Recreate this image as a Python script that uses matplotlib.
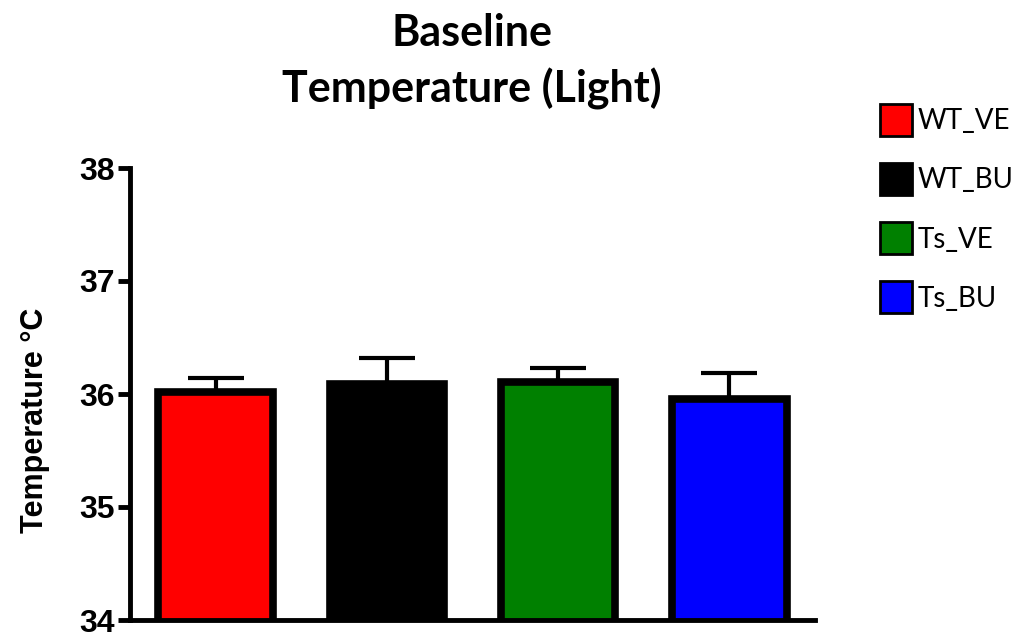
import matplotlib
matplotlib.use("Agg")
import matplotlib.pyplot as plt
from matplotlib.patches import Patch

groups = ["WT_VE", "WT_BU", "Ts_VE", "Ts_BU"]
means = [36.02, 36.09, 36.11, 35.96]
sems = [0.12, 0.23, 0.12, 0.23]
colors = ["#FF0000", "#000000", "#008000", "#0000FF"]
yticks = [34, 35, 36, 37, 38]

fig = plt.figure(figsize=(10.36, 6.34), dpi=100)
ax = fig.add_axes([130 / 1036, 1 - 620 / 634, (815 - 130) / 1036, (620 - 168) / 634])

x = list(range(len(groups)))
ax.bar(x, means, width=0.67, color=colors, edgecolor="black", linewidth=5.5,
       zorder=2)
ax.errorbar(x, means, yerr=[[0] * len(sems), sems], fmt="none", ecolor="black",
            elinewidth=3, capsize=20, capthick=3, zorder=1)

ax.set_ylim(34, 38)
ax.set_xlim(-0.5, 3.5)
ax.set_yticks(yticks)
ax.set_yticklabels([str(t) for t in yticks], fontsize=23, fontweight="bold",
                   family="Liberation Sans")
ax.set_xticks([])
for side in ("top", "right"):
    ax.spines[side].set_visible(False)
for side in ("left", "bottom"):
    ax.spines[side].set_linewidth(3.5)
ax.tick_params(axis="y", length=9, width=3.5, pad=2)
ax.set_ylabel("Temperature °C", fontsize=22, fontweight="bold",
              family="Liberation Sans")
ax.yaxis.label.set_va("center")
ax.yaxis.set_label_coords((35 - 130) / 685, (620 - 420) / 452)

fig.text(472 / 1036, 1 - 33 / 634, "Baseline", ha="center", va="center",
         fontsize=31, fontweight="bold", family="Lato")
fig.text(472 / 1036, 1 - 89 / 634, "Temperature (Light)", ha="center", va="center",
         fontsize=31, fontweight="bold", family="Lato")

handles = [Patch(facecolor=c, edgecolor="black", linewidth=2) for c in colors]
fig.legend(handles, groups, loc="upper left",
           bbox_to_anchor=(869 / 1036, 1 - 93 / 634), frameon=False,
           prop={"family": "Lato", "size": 20}, handlelength=1.15,
           handleheight=1.39, handletextpad=0.2, labelspacing=0.98,
           borderaxespad=0)

fig.savefig("out.png", dpi=100)
